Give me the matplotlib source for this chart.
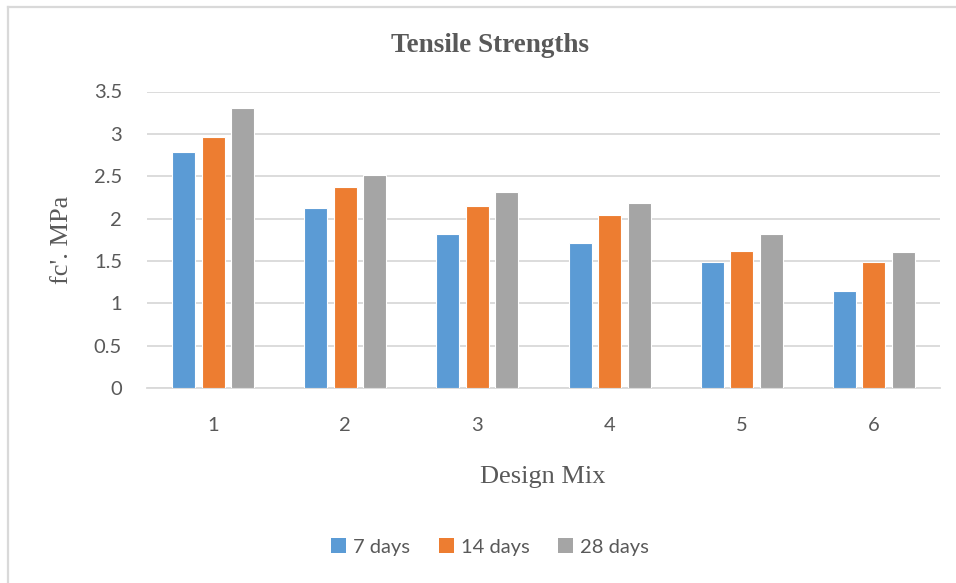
import matplotlib
matplotlib.use("Agg")
import matplotlib.pyplot as plt
from matplotlib.lines import Line2D
from matplotlib.patches import Patch
import numpy as np

# Data
mixes = ["1", "2", "3", "4", "5", "6"]
series_names = ["7 days", "14 days", "28 days"]
days7 = [2.79, 2.12, 1.82, 1.71, 1.49, 1.14]
days14 = [2.96, 2.37, 2.15, 2.04, 1.62, 1.49]
days28 = [3.30, 2.51, 2.31, 2.18, 1.82, 1.60]
yticks = [0, 0.5, 1, 1.5, 2, 2.5, 3, 3.5]
ytick_labels = ["0", "0.5", "1", "1.5", "2", "2.5", "3", "3.5"]

colors = ["#5B9BD5", "#ED7D31", "#A5A5A5"]
text_col = "#595959"
grid_col = "#D9D9D9"

W, H = 956, 583
fig = plt.figure(figsize=(W / 100, H / 100), dpi=100)
fig.patch.set_facecolor("white")

# Chart-area frame (top and left edges)
fig.add_artist(Line2D([8 / W, 8 / W], [0, 1 - 7 / H], transform=fig.transFigure,
                      color=grid_col, lw=1.6))
fig.add_artist(Line2D([8 / W, 1], [1 - 7 / H, 1 - 7 / H], transform=fig.transFigure,
                      color=grid_col, lw=1.6))

ax = fig.add_axes([147 / W, 1 - 388 / H, (940 - 147) / W, (388 - 91.5) / H])
x = np.arange(len(mixes))
step = 0.2235
width = 0.174
for i, (vals, c, name) in enumerate(zip([days7, days14, days28], colors, series_names)):
    ax.bar(x + (i - 1) * step, vals, width=width, color=c, edgecolor="white",
           linewidth=0.8, label=name, zorder=3)

ax.set_xlim(-0.5, len(mixes) - 0.5)
ax.set_ylim(0, 3.5)
ax.set_yticks(yticks)
ax.set_yticklabels(ytick_labels)
ax.set_xticks(x)
ax.set_xticklabels(mixes)
ax.yaxis.grid(True, color=grid_col, lw=1.3, zorder=0)
ax.set_axisbelow(True)
for s in ["top", "right", "left"]:
    ax.spines[s].set_visible(False)
ax.spines["bottom"].set_color(grid_col)
ax.spines["bottom"].set_linewidth(1.3)
ax.tick_params(axis="both", length=0, labelcolor=text_col, labelsize=14.5)
ax.tick_params(axis="y", pad=18)
ax.tick_params(axis="x", pad=21)
for lbl in ax.get_xticklabels() + ax.get_yticklabels():
    lbl.set_fontfamily("Lato")

fig.text(490 / W, 1 - 45 / H, "Tensile Strengths", ha="center", va="center",
         fontsize=19.5, fontweight="bold", family="Liberation Serif", color=text_col)
fig.text(62 / W, 1 - 240 / H, "fc'. MPa", ha="center", va="center", rotation=90,
         fontsize=19, family="Liberation Serif", color=text_col)
fig.text(543 / W, 1 - 477 / H, "Design Mix", ha="center", va="center",
         fontsize=19, family="Liberation Serif", color=text_col)

handles = [Patch(facecolor=c, edgecolor="none") for c in colors]
leg = fig.legend(handles, series_names, loc="center", bbox_to_anchor=(490 / W, 1 - 547 / H),
                 ncol=3, frameon=False, handlelength=0.75, handleheight=0.75,
                 handletextpad=0.35, columnspacing=1.4,
                 prop={"family": "Lato", "size": 14.5})
for t in leg.get_texts():
    t.set_color(text_col)

fig.savefig("out.png", dpi=100, facecolor="white")
